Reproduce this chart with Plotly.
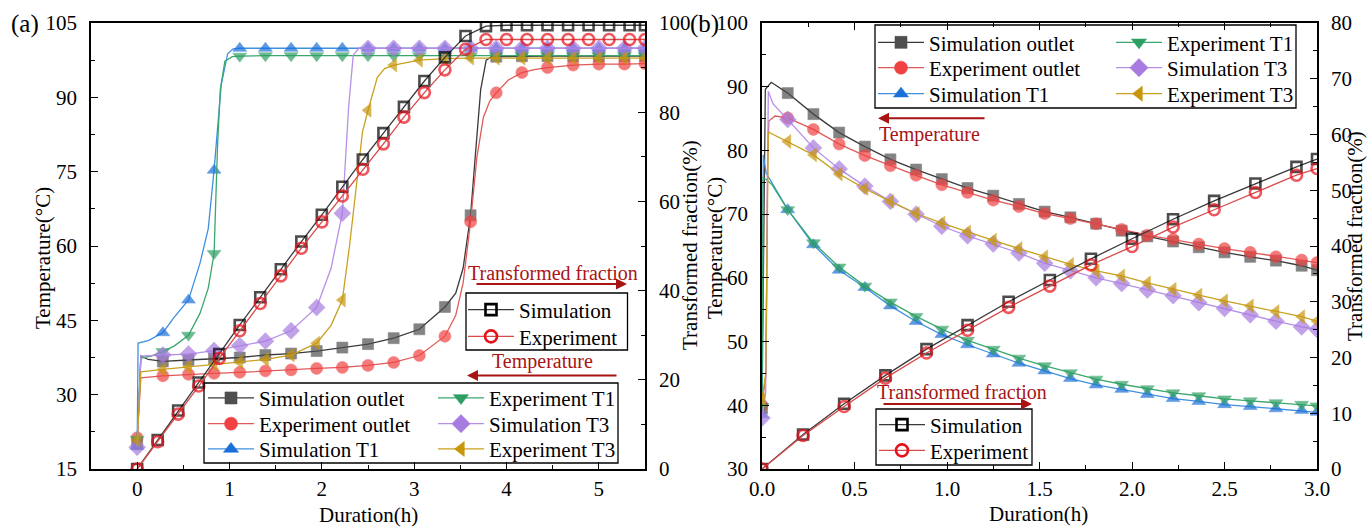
import plotly.graph_objects as go

W, H = 1370, 528
FONT = "'Liberation Serif', 'Times New Roman', Times, 'DejaVu Serif', serif"

# ======================= DATA =======================
# ---- Panel (a): temperature, markers every 1000 s ----
A_T_MARK = [0, 0.278, 0.556, 0.833, 1.111, 1.389, 1.667, 1.944, 2.222, 2.5,
            2.778, 3.056, 3.333, 3.611, 3.889, 4.167, 4.444, 4.722, 5.0, 5.278, 5.5]
A_SIM_OUTLET = [20.0, 36.7, 37.0, 37.3, 37.5, 38.0, 38.3, 38.8, 39.5, 40.2,
                41.4, 43.2, 47.7, 66.2, 98.2, 98.3, 98.3, 98.3, 98.3, 98.3, 98.3]
A_EXP_OUTLET = [21.3, 33.8, 34.1, 34.3, 34.5, 34.8, 35.0, 35.3, 35.5, 35.9,
                36.5, 37.9, 41.8, 64.9, 90.9, 95.0, 96.0, 96.5, 96.7, 96.7, 96.8]
A_SIM_T1 = [19.6, 42.5, 49.1, 75.3, 99.9, 99.9, 99.9, 99.9, 99.9, 99.9,
            99.9, 99.9, 99.9, 99.9, 99.9, 99.9, 99.9, 99.9, 99.9, 99.9, 99.9]
A_EXP_T1 = [21.0, 38.7, 42.0, 58.5, 98.3, 98.4, 98.4, 98.4, 98.4, 98.4,
            98.4, 98.4, 98.4, 98.4, 98.4, 98.4, 98.4, 98.4, 98.4, 98.4, 98.4]
A_SIM_T3 = [19.4, 38.0, 38.2, 38.9, 39.9, 40.8, 42.9, 47.6, 66.6, 99.9,
            99.9, 99.9, 99.9, 99.9, 99.9, 99.9, 99.9, 99.9, 99.9, 99.9, 99.9]
A_EXP_T3 = [20.8, 35.1, 35.6, 36.1, 36.6, 37.1, 38.0, 40.4, 49.1, 87.4,
            96.5, 97.5, 97.8, 97.9, 97.9, 97.9, 97.9, 97.9, 97.9, 97.9, 97.9]
# extra curve points (no marker) read between markers
A_SIM_OUTLET_KX = [0.04, 0.12, 3.45, 3.53, 3.67, 3.72, 3.78, 3.84]
A_SIM_OUTLET_KY = [37.8, 37.1, 50.5, 55.5, 80.0, 91.5, 97.5, 98.2]
A_EXP_OUTLET_KX = [0.04, 3.45, 3.53, 3.68, 3.75, 3.82, 4.02, 4.3]
A_EXP_OUTLET_KY = [33.4, 46.0, 52.5, 78.0, 86.0, 89.3, 93.5, 95.6]
A_SIM_T1_KX = [0.01, 0.12, 0.4, 0.68, 0.77, 0.91, 0.98, 1.04]
A_SIM_T1_KY = [40.4, 40.9, 45.6, 56.5, 63.5, 92.5, 98.8, 99.8]
A_EXP_T1_KX = [0.04, 0.15, 0.4, 0.68, 0.77, 0.87, 0.9, 0.95, 1.03]
A_EXP_T1_KY = [37.4, 37.8, 39.8, 46.4, 51.5, 80.0, 91.5, 97.3, 98.2]
A_SIM_T3_KX = [0.04, 2.1, 2.29, 2.34, 2.4]
A_SIM_T3_KY = [37.8, 55.5, 88.0, 98.5, 99.9]
A_EXP_T3_KX = [0.04, 2.1, 2.3, 2.38, 2.44, 2.6, 2.68]
A_EXP_T3_KY = [34.6, 44.0, 60.0, 73.0, 83.0, 94.0, 95.8]

# ---- Panel (a): transformed fraction, markers every 800 s ----
A_F_MARK = [0, 0.222, 0.444, 0.667, 0.889, 1.111, 1.333, 1.556, 1.778, 2.0,
            2.222, 2.444, 2.667, 2.889, 3.111, 3.333, 3.556, 3.778, 4.0, 4.222,
            4.444, 4.667, 4.889, 5.111, 5.333, 5.5]
A_SIM_FRAC = [0, 6.5, 13.1, 19.4, 25.8, 32.3, 38.5, 44.8, 51.0, 57.0,
              63.3, 69.4, 75.3, 81.2, 87.0, 92.3, 97.1, 99.3, 99.5, 99.5,
              99.5, 99.5, 99.5, 99.5, 99.5, 99.5]
A_EXP_FRAC = [0, 6.1, 12.3, 18.6, 24.8, 31.0, 37.1, 43.3, 49.5, 55.4,
              61.2, 67.2, 72.9, 78.9, 84.4, 89.5, 94.1, 96.3, 96.3, 96.3,
              96.3, 96.3, 96.3, 96.3, 96.3, 96.3]

# ---- Panel (b): temperature, markers every 500 s ----
B_T_MARK = [0, 0.139, 0.278, 0.417, 0.556, 0.694, 0.833, 0.972, 1.111, 1.25,
            1.389, 1.528, 1.667, 1.806, 1.944, 2.083, 2.222, 2.361, 2.5, 2.639,
            2.778, 2.917, 3.0]
B_SIM_OUTLET = [39.5, 89.0, 85.7, 82.8, 80.6, 78.6, 77.0, 75.5, 74.1, 72.9,
                71.6, 70.4, 69.5, 68.5, 67.4, 66.5, 65.7, 64.8, 64.0, 63.3,
                62.7, 61.9, 61.2]
B_EXP_OUTLET = [40.0, 85.1, 83.3, 81.0, 79.2, 77.6, 76.1, 74.6, 73.4, 72.2,
                71.2, 70.1, 69.3, 68.5, 67.6, 66.7, 66.05, 65.3, 64.6, 64.0,
                63.3, 62.8, 62.4]
B_SIM_T1 = [38.5, 70.7, 65.2, 61.2, 58.5, 55.6, 53.15, 51.1, 49.5, 48.05,
            46.6, 45.4, 44.2, 43.2, 42.5, 41.7, 41.05, 40.6, 40.1, 39.8,
            39.45, 39.2, 38.9]
B_EXP_T1 = [39.8, 70.7, 65.5, 61.7, 58.7, 56.2, 53.95, 51.95, 50.2, 48.8,
            47.4, 46.2, 45.1, 44.1, 43.3, 42.6, 41.95, 41.5, 41.0, 40.7,
            40.4, 40.15, 39.9]
B_SIM_T3 = [38.0, 84.85, 80.4, 77.1, 74.4, 72.0, 70.0, 68.1, 66.6, 65.3,
            63.9, 62.3, 61.1, 60.0, 59.1, 58.1, 57.2, 56.1, 55.2, 54.2,
            53.2, 52.3, 51.9]
B_EXP_T3 = [40.8, 81.4, 79.3, 76.3, 74.0, 72.0, 70.1, 68.6, 67.2, 65.9,
            64.6, 63.3, 62.1, 61.1, 60.3, 59.2, 58.2, 57.3, 56.4, 55.6,
            54.7, 53.9, 53.2]
B_SIM_OUTLET_KX = [0.012, 0.018, 0.05]
B_SIM_OUTLET_KY = [70.0, 89.6, 90.7]
B_EXP_OUTLET_KX = [0.022, 0.03, 0.037, 0.07]
B_EXP_OUTLET_KY = [45.0, 78.0, 84.6, 85.4]
B_SIM_T1_KX = [0.007, 0.022]
B_SIM_T1_KY = [79.3, 76.5]
B_EXP_T1_KX = [0.006, 0.025, 0.055]
B_EXP_T1_KY = [75.7, 75.4, 74.6]
B_SIM_T3_KX = [0.02, 0.034, 0.06]
B_SIM_T3_KY = [42.0, 89.3, 87.3]
B_EXP_T3_KX = [0.02, 0.034]
B_EXP_T3_KY = [45.0, 82.9]

# ---- Panel (b): transformed fraction, markers every 800 s ----
B_F_MARK = [0, 0.222, 0.444, 0.667, 0.889, 1.111, 1.333, 1.556, 1.778, 2.0,
            2.222, 2.444, 2.667, 2.889, 3.0]
B_SIM_FRAC = [0, 6.2, 11.7, 16.8, 21.5, 25.8, 30.0, 33.9, 37.7, 41.3,
              44.8, 48.1, 51.2, 54.2, 55.6]
B_EXP_FRAC = [0, 6.0, 11.2, 16.3, 20.8, 24.9, 29.0, 32.8, 36.6, 39.9,
              43.4, 46.5, 49.6, 52.7, 53.9]

SERIES_NAMES = ["Simulation outlet", "Experiment outlet", "Simulation T1",
                "Experiment T1", "Simulation T3", "Experiment T3"]

# ======================= STYLE =======================
STY = {
    "Simulation outlet": dict(mc="#4f4f4f", lc="#3a3a3a", sym="square", ms=11),
    "Experiment outlet": dict(mc="#f04242", lc="#e05a5a", sym="circle", ms=12),
    "Simulation T1": dict(mc="#1b6fd9", lc="#3f90e0", sym="triangle-up", ms=12),
    "Experiment T1": dict(mc="#2e9e62", lc="#3aa86e", sym="triangle-down", ms=12),
    "Simulation T3": dict(mc="#a77be0", lc="#b690e8", sym="diamond", ms=13),
    "Experiment T3": dict(mc="#c8960c", lc="#c9a11e", sym="triangle-left", ms=12),
    "Simulation": dict(mc="#000000", lc="#3a3a3a", sym="square-open", ms=10),
    "Experiment": dict(mc="#e8101a", lc="#d94a4a", sym="circle-open", ms=11),
}
ARROW_C = "#a81414"

fig = go.Figure()
legend_layouts = {}
legend_counter = [0]


def px_x(x):
    return x / W


def px_y(y):
    return 1 - y / H


def add_series(name, xm, ym, xk, yk, xa, ya, text_x, row_y):
    st = STY[name]
    open_sym = st["sym"].endswith("open")
    mline = dict(color=st["mc"], width=2.6 if open_sym else 0.6)
    pts = sorted([(a, b, True) for a, b in zip(xm, ym)] +
                 [(a, b, False) for a, b in zip(xk, yk)])
    xs = [p[0] for p in pts]
    ys = [p[1] for p in pts]
    sizes = [st["ms"] if p[2] else 0 for p in pts]
    # data trace (curve + markers)
    fig.add_trace(go.Scatter(
        x=xs, y=ys, name=name, mode="lines+markers", xaxis=xa, yaxis=ya,
        line=dict(color=st["lc"], width=1.3),
        marker=dict(symbol=st["sym"], size=sizes, color=st["mc"], line=mline),
        showlegend=False, hoverinfo="x+y+name"))
    # legend entry
    legend_counter[0] += 1
    lid = "legend" if legend_counter[0] == 1 else "legend%d" % legend_counter[0]
    fig.add_trace(go.Scatter(
        x=[None], y=[None], name=name, mode="lines+markers", xaxis=xa, yaxis=ya,
        line=dict(color=st["lc"], width=1.3),
        marker=dict(symbol=st["sym"], size=st["ms"] + 1, color=st["mc"], line=mline),
        legend=lid, showlegend=True))
    legend_layouts[lid] = dict(
        x=px_x(text_x - 57), y=px_y(row_y), xanchor="left", yanchor="middle",
        bgcolor="rgba(0,0,0,0)", borderwidth=0, itemwidth=46,
        font=dict(family=FONT, size=21, color="black"))


# ---- Panel (a) temperature ----
A_VALS = [A_SIM_OUTLET, A_EXP_OUTLET, A_SIM_T1, A_EXP_T1, A_SIM_T3, A_EXP_T3]
A_KX = [A_SIM_OUTLET_KX, A_EXP_OUTLET_KX, A_SIM_T1_KX, A_EXP_T1_KX, A_SIM_T3_KX, A_EXP_T3_KX]
A_KY = [A_SIM_OUTLET_KY, A_EXP_OUTLET_KY, A_SIM_T1_KY, A_EXP_T1_KY, A_SIM_T3_KY, A_EXP_T3_KY]
A_LEG_POS = [(260, 398.3), (260, 424), (260, 449.3), (490, 398.3), (490, 424), (490, 449.3)]
for i, nm in enumerate(SERIES_NAMES):
    add_series(nm, A_T_MARK, A_VALS[i], A_KX[i], A_KY[i], "x", "y", *A_LEG_POS[i])
# ---- Panel (a) fraction ----
add_series("Simulation", A_F_MARK, A_SIM_FRAC, [], [], "x", "y2", 520, 310)
add_series("Experiment", A_F_MARK, A_EXP_FRAC, [], [], "x", "y2", 520, 336.7)

# ---- Panel (b) temperature ----
B_VALS = [B_SIM_OUTLET, B_EXP_OUTLET, B_SIM_T1, B_EXP_T1, B_SIM_T3, B_EXP_T3]
B_KX = [B_SIM_OUTLET_KX, B_EXP_OUTLET_KX, B_SIM_T1_KX, B_EXP_T1_KX, B_SIM_T3_KX, B_EXP_T3_KX]
B_KY = [B_SIM_OUTLET_KY, B_EXP_OUTLET_KY, B_SIM_T1_KY, B_EXP_T1_KY, B_SIM_T3_KY, B_EXP_T3_KY]
B_LEG_POS = [(930, 42.7), (930, 68), (930, 94), (1168, 42.7), (1168, 68), (1168, 94)]
for i, nm in enumerate(SERIES_NAMES):
    add_series(nm, B_T_MARK, B_VALS[i], B_KX[i], B_KY[i], "x2", "y3", *B_LEG_POS[i])
add_series("Simulation", B_F_MARK, B_SIM_FRAC, [], [], "x2", "y4", 931, 425)
add_series("Experiment", B_F_MARK, B_EXP_FRAC, [], [], "x2", "y4", 931, 450.7)

# ======================= LAYOUT =======================
tickfont = dict(family=FONT, size=21, color="black")
common = dict(showline=True, linecolor="black", linewidth=1.5, ticks="inside",
              ticklen=7, tickwidth=1.3, tickcolor="black", showgrid=False,
              zeroline=False, tickfont=tickfont, automargin=False)


def minor(d):
    return dict(dtick=d, ticks="inside", ticklen=4, tickwidth=1.3,
                tickcolor="black", showgrid=False)


XA = [91 / W, 645 / W]
XB = [762 / W, 1317 / W]
YD = [1 - 469 / H, 1 - 23 / H]

fig.update_layout(
    width=W, height=H, autosize=False,
    margin=dict(l=0, r=0, t=0, b=0, pad=0, autoexpand=False),
    paper_bgcolor="white", plot_bgcolor="white",
    xaxis=dict(domain=XA, range=[-0.5, 5.5], dtick=1, tick0=0, anchor="y",
               mirror=True, minor=minor(0.5), ticklabelstandoff=0, **common),
    yaxis=dict(domain=YD, range=[15, 105], dtick=15, tick0=15, anchor="x",
               minor=minor(7.5), ticklabelstandoff=8, **common),
    yaxis2=dict(overlaying="y", side="right", range=[0, 100], dtick=20, tick0=0,
                anchor="x", minor=minor(10), ticklabelstandoff=8, **common),
    xaxis2=dict(domain=XB, range=[0, 3], dtick=0.5, tick0=0, anchor="y3",
                mirror="ticks", minor=minor(0.25), tickformat=".1f",
                ticklabelstandoff=0, **common),
    yaxis3=dict(domain=YD, range=[30, 100], dtick=10, tick0=30, anchor="x2",
                minor=minor(5), ticklabelstandoff=8, **common),
    yaxis4=dict(overlaying="y3", side="right", range=[0, 80], dtick=10, tick0=0,
                anchor="x2", minor=minor(5), ticklabelstandoff=8, **common),
)
fig.update_layout(**legend_layouts)

# legend boxes
BOXES = [(204, 383, 618, 463), (466, 293, 627.5, 350),
         (875, 25, 1296, 108), (876, 409, 1032, 465)]
for x0, y0, x1, y1 in BOXES:
    fig.add_shape(type="rect", xref="paper", yref="paper",
                  x0=px_x(x0), x1=px_x(x1), y0=px_y(y1), y1=px_y(y0),
                  line=dict(color="black", width=1.3), fillcolor="rgba(0,0,0,0)")

annots = []


def text(x, y, s, size=22, angle=0, color="black", yanchor="middle"):
    annots.append(dict(x=px_x(x), y=px_y(y), xref="paper", yref="paper", text=s,
                       showarrow=False, textangle=angle, xanchor="center",
                       yanchor=yanchor, borderpad=0,
                       font=dict(family=FONT, size=size, color=color)))


def arrow(x_head, y, x_tail):
    annots.append(dict(x=px_x(x_head), y=px_y(y), xref="paper", yref="paper",
                       ax=x_tail - x_head, ay=0, axref="pixel", ayref="pixel",
                       text="", showarrow=True, arrowhead=2, arrowsize=1.1,
                       arrowwidth=2, arrowcolor=ARROW_C))


text(25, 24, "(a)", size=25)
text(704, 24, "(b)", size=25)
text(43, 258, "Temperature(°C)", size=21, angle=-90)
text(690, 245, "Transformed fraction(%)", size=21, angle=-90)
text(715, 248, "Temperature(°C)", size=21, angle=-90)
text(1355, 236, "Transformed fraction(%)", size=21, angle=-90)
text(368, 515, "Duration(h)", size=21)
text(1038, 514, "Duration(h)", size=21)
text(553, 272.5, "Transformed fraction", size=20, color=ARROW_C)
arrow(627, 284, 475)
text(542, 361.5, "Temperature", size=20, color=ARROW_C)
arrow(467, 375.5, 618)
text(929, 135, "Temperature", size=20, color=ARROW_C)
arrow(878, 118.3, 986)
text(962, 391.5, "Transformed fraction", size=20, color=ARROW_C)
arrow(1032, 404, 882)

fig.update_layout(annotations=annots)
fig.write_html("out.html")
